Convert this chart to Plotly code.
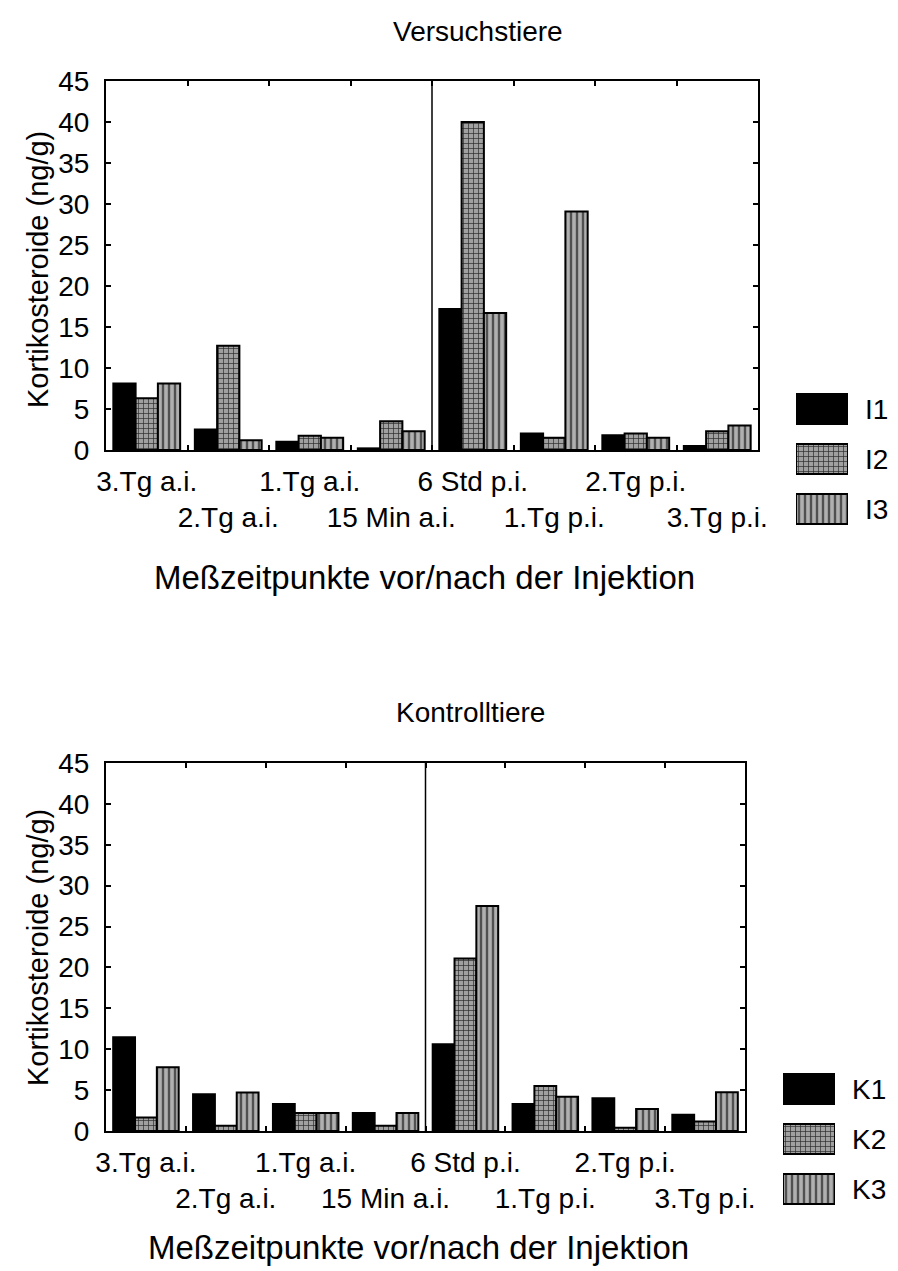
import plotly.graph_objects as go

categories = ["3.Tg a.i.", "2.Tg a.i.", "1.Tg a.i.", "15 Min a.i.",
              "6 Std p.i.", "1.Tg p.i.", "2.Tg p.i.", "3.Tg p.i."]
I1 = [8.1, 2.5, 1.0, 0.2, 17.2, 2.0, 1.8, 0.5]
I2 = [6.3, 12.7, 1.75, 3.5, 40.0, 1.5, 2.0, 2.3]
I3 = [8.1, 1.2, 1.5, 2.3, 16.7, 29.1, 1.5, 3.0]
K1 = [11.45, 4.5, 3.3, 2.2, 10.6, 3.3, 4.0, 2.0]
K2 = [1.65, 0.65, 2.2, 0.65, 21.1, 5.5, 0.4, 1.15]
K3 = [7.8, 4.7, 2.2, 2.2, 27.5, 4.2, 2.7, 4.75]
top_names = ["I1", "I2", "I3"]
bot_names = ["K1", "K2", "K3"]
y_ticks = [0, 5, 10, 15, 20, 25, 30, 35, 40, 45]

W, H = 898, 1271
FONT = "Liberation Sans, Arial, sans-serif"

styles = [
    dict(color="black", line=dict(color="black", width=2)),
    dict(color="#9a9a9a", line=dict(color="black", width=2),
         pattern=dict(shape="+", fgcolor="#2a2a2a", bgcolor="#a0a0a0", size=5, solidity=0.25, fillmode="replace")),
    dict(color="#9a9a9a", line=dict(color="black", width=2),
         pattern=dict(shape="|", fgcolor="#505050", bgcolor="#b0b0b0", size=6, solidity=0.4, fillmode="replace")),
]

fig = go.Figure()

def px_x(a, b):
    return [a / W, b / W]

def px_y(top, bottom):
    return [1 - bottom / H, 1 - top / H]

for k, (name, vals) in enumerate(zip(top_names, [I1, I2, I3])):
    fig.add_trace(go.Bar(x=categories, y=vals, name=name, marker=styles[k],
                         xaxis="x", yaxis="y", showlegend=False))
for k, (name, vals) in enumerate(zip(bot_names, [K1, K2, K3])):
    fig.add_trace(go.Bar(x=categories, y=vals, name=name, marker=styles[k],
                         xaxis="x2", yaxis="y2", showlegend=False))

for k, name in enumerate(top_names):
    fig.add_trace(go.Bar(x=[1], y=[name], orientation="h", width=0.6, marker=styles[k],
                         xaxis="x3", yaxis="y3", showlegend=False, hoverinfo="skip"))
for k, name in enumerate(bot_names):
    fig.add_trace(go.Bar(x=[1], y=[name], orientation="h", width=0.6, marker=styles[k],
                         xaxis="x4", yaxis="y4", showlegend=False, hoverinfo="skip"))

tickfont = dict(family=FONT, size=28, color="black")

def xaxis_cfg(domain, anchor):
    return dict(domain=domain, anchor=anchor, type="category", range=[-0.5, 7.5],
                tickmode="array", tickvals=categories,
                ticktext=[c if i % 2 == 0 else "<br>" + c for i, c in enumerate(categories)],
                tickangle=0,
                tickson="boundaries", ticks="inside", ticklen=5, tickwidth=2, tickcolor="black",
                showline=True, linewidth=2, linecolor="black", mirror="ticks",
                showgrid=False, zeroline=False, tickfont=tickfont, ticklabelstandoff=5,
                automargin=False, fixedrange=True)

def yaxis_cfg(domain, anchor):
    return dict(domain=domain, anchor=anchor, range=[0, 45], tickmode="array", tickvals=y_ticks,
                ticks="inside", ticklen=5, tickwidth=2, tickcolor="black",
                showline=True, linewidth=2, linecolor="black", mirror="ticks",
                showgrid=False, zeroline=False, tickfont=tickfont, ticklabelstandoff=9,
                automargin=False, fixedrange=True)

def leg_x(domain, anchor):
    return dict(domain=domain, anchor=anchor, range=[0, 1], visible=False, fixedrange=True)

def leg_y(domain, anchor, names):
    return dict(domain=domain, anchor=anchor, type="category", categoryarray=names,
                range=[2.5, -0.5], side="right", showline=False, showgrid=False, zeroline=False,
                ticks="", tickfont=dict(family=FONT, size=28, color="black"),
                ticklabelstandoff=16, automargin=False, fixedrange=True)

def ann(text, x, y, size, angle=0):
    return dict(text=text, xref="paper", yref="paper", x=x / W, y=1 - y / H,
                xanchor="center", yanchor="middle", textangle=angle, showarrow=False,
                font=dict(family=FONT, size=size, color="black"))

fig.update_layout(
    width=W, height=H,
    margin=dict(l=0, r=0, t=0, b=0),
    paper_bgcolor="white", plot_bgcolor="white",
    barmode="group", bargap=0.18, bargroupgap=0,
    font=dict(family=FONT, color="black"),
    xaxis=xaxis_cfg(px_x(106, 758), "y"),
    yaxis=yaxis_cfg(px_y(81, 450), "x"),
    xaxis2=xaxis_cfg(px_x(106, 745), "y2"),
    yaxis2=yaxis_cfg(px_y(763, 1131), "x2"),
    xaxis3=leg_x(px_x(796, 848), "y3"),
    yaxis3=leg_y(px_y(384, 534), "x3", top_names),
    xaxis4=leg_x(px_x(783, 835), "y4"),
    yaxis4=leg_y(px_y(1064, 1214), "x4", bot_names),
    shapes=[
        dict(type="line", xref="x", yref="y domain", x0=3.5, x1=3.5, y0=0, y1=1,
             line=dict(color="black", width=1.5)),
        dict(type="line", xref="x2", yref="y2 domain", x0=3.5, x1=3.5, y0=0, y1=1,
             line=dict(color="black", width=1.5)),
    ],
    annotations=[
        ann("Versuchstiere", 478, 32, 28),
        ann("Kontrolltiere", 470, 712, 28),
        ann("Meßzeitpunkte vor/nach der Injektion", 424, 577, 33),
        ann("Meßzeitpunkte vor/nach der Injektion", 418, 1247, 33),
        ann("Kortikosteroide (ng/g)", 38, 270, 29, -90),
        ann("Kortikosteroide (ng/g)", 38, 948, 29, -90),
    ],
)

fig.write_html("out.html")
